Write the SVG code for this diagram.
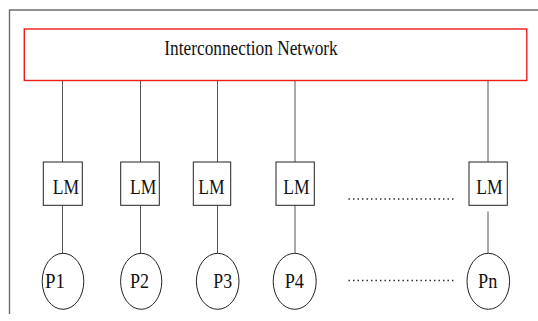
<svg xmlns="http://www.w3.org/2000/svg" width="538" height="321" viewBox="0 0 538 321">
  <style>
    .frame { fill: none; stroke: #6e6e6e; stroke-width: 1.4; }
    .net { fill: #ffffff; stroke: #ee1c1c; stroke-width: 1.4; }
    .mem { fill: #ffffff; stroke: #222222; stroke-width: 1; }
    .proc { fill: #ffffff; stroke: #222222; stroke-width: 1; }
    .wire { stroke: #555555; stroke-width: 1; fill: none; }
    .dots { stroke: #222222; stroke-width: 1.5; stroke-dasharray: 1.4 3.1; fill: none; }
    text { fill: #111111; }
  </style>
  <rect width="538" height="321" fill="#ffffff"/>

  <!-- outer frame (open to the right and bottom) -->
  <path class="frame" d="M9.5,314 V10 H538"/>

  <!-- connectors -->
  <g id="connectors">
    <line class="wire" x1="62.5" y1="81" x2="62.5" y2="162"/>
    <line class="wire" x1="140.5" y1="81" x2="140.5" y2="162"/>
    <line class="wire" x1="217.5" y1="81" x2="217.5" y2="162"/>
    <line class="wire" x1="295" y1="81" x2="295" y2="162"/>
    <line class="wire" x1="488" y1="81" x2="488" y2="162"/>

    <line class="wire" x1="62.5" y1="205" x2="62.5" y2="253"/>
    <line class="wire" x1="140.5" y1="205" x2="140.5" y2="253"/>
    <line class="wire" x1="217.5" y1="205" x2="217.5" y2="253"/>
    <line class="wire" x1="295" y1="205" x2="295" y2="253"/>
    <line class="wire" x1="488" y1="211.5" x2="488" y2="255"/>

    <line class="dots" x1="348.5" y1="199" x2="455.5" y2="199"/>
    <line class="dots" x1="348.5" y1="280.5" x2="455.5" y2="280.5"/>
  </g>

  <g font-family="'Liberation Serif', 'DejaVu Serif', serif">
    <!-- interconnection network -->
    <g id="network">
      <rect class="net" x="24.3" y="29" width="502.5" height="51.5"/>
      <text x="164.3" y="55" font-size="20" textLength="173.4" lengthAdjust="spacingAndGlyphs">Interconnection Network</text>
    </g>

    <!-- local memories -->
    <g id="lm1">
      <rect class="mem" x="43.3" y="162" width="39" height="43.3"/>
      <text x="52.7" y="194" font-size="22" textLength="26.3" lengthAdjust="spacingAndGlyphs">LM</text>
    </g>
    <g id="lm2">
      <rect class="mem" x="120.7" y="162" width="38.6" height="43.3"/>
      <text x="130" y="194" font-size="22" textLength="26.3" lengthAdjust="spacingAndGlyphs">LM</text>
    </g>
    <g id="lm3">
      <rect class="mem" x="193.3" y="162" width="37.4" height="43.3"/>
      <text x="198.3" y="194" font-size="22" textLength="26.3" lengthAdjust="spacingAndGlyphs">LM</text>
    </g>
    <g id="lm4">
      <rect class="mem" x="276" y="162" width="38.3" height="43.3"/>
      <text x="283.3" y="194" font-size="22" textLength="26.3" lengthAdjust="spacingAndGlyphs">LM</text>
    </g>
    <g id="lmn">
      <rect class="mem" x="469" y="162" width="38.3" height="43.3"/>
      <text x="476.3" y="194" font-size="22" textLength="26.3" lengthAdjust="spacingAndGlyphs">LM</text>
    </g>

    <!-- processors -->
    <g id="p1">
      <ellipse class="proc" cx="63" cy="281.3" rx="20.8" ry="28"/>
      <text x="45" y="288.3" font-size="22" textLength="20" lengthAdjust="spacingAndGlyphs">P1</text>
    </g>
    <g id="p2">
      <ellipse class="proc" cx="141.2" cy="281.3" rx="20.6" ry="28"/>
      <text x="130" y="288.3" font-size="22" textLength="19" lengthAdjust="spacingAndGlyphs">P2</text>
    </g>
    <g id="p3">
      <ellipse class="proc" cx="217.7" cy="281.3" rx="21.3" ry="28"/>
      <text x="213.3" y="288.3" font-size="22" textLength="18.8" lengthAdjust="spacingAndGlyphs">P3</text>
    </g>
    <g id="p4">
      <ellipse class="proc" cx="294.7" cy="281.3" rx="21.5" ry="28"/>
      <text x="284.7" y="288.3" font-size="22" textLength="19.3" lengthAdjust="spacingAndGlyphs">P4</text>
    </g>
    <g id="pn">
      <ellipse class="proc" cx="488.3" cy="281.3" rx="21.3" ry="28"/>
      <text x="478" y="288.3" font-size="22" textLength="19.3" lengthAdjust="spacingAndGlyphs">Pn</text>
    </g>
  </g>
</svg>
